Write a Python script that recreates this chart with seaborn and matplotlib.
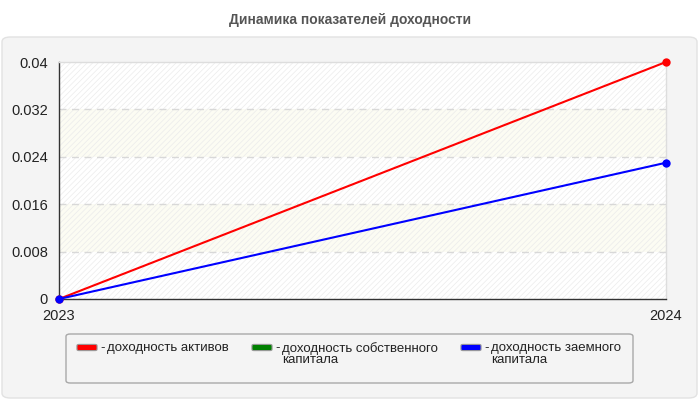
import matplotlib
matplotlib.use('Agg')
import matplotlib.pyplot as plt
from matplotlib.patches import FancyBboxPatch
import numpy as np
import pandas as pd
import seaborn as sns

# data
years = [2023, 2024]
series_names = ['доходность активов', 'доходность собственного\nкапитала', 'доходность заемного\nкапитала']
series_colors = ['#ff0000', '#008000', '#0000ff']
roa = [0.0, 0.04]
roe = [np.nan, np.nan]  # no values shown
rod = [0.0, 0.023]
y_ticks = [0, 0.008, 0.016, 0.024, 0.032, 0.04]
y_labels = ['0', '0.008', '0.016', '0.024', '0.032', '0.04']
title = 'Динамика показателей доходности'

sns.set_style('white')
plt.rcParams['font.family'] = ['Liberation Sans', 'DejaVu Sans']
plt.rcParams['hatch.linewidth'] = 0.5

df = pd.DataFrame({
    'year': years * 3,
    'value': roa + roe + rod,
    'series': [n for n in series_names for _ in years],
})

fig = plt.figure(figsize=(7, 4), dpi=100)
fig.patch.set_facecolor('white')

# outer panel
panel = FancyBboxPatch((2 / 700, 2 / 400), 695 / 700, 361 / 400,
                       boxstyle='round,pad=0,rounding_size=0.012',
                       transform=fig.transFigure, facecolor='#f4f4f4',
                       edgecolor='#e2e2e2', linewidth=1, zorder=-10)
fig.patches.append(panel)

fig.text(0.5, 1 - 20 / 400, title, ha='center', va='center',
         fontsize=10, fontweight='bold', color='#555555')

ax = fig.add_axes([59 / 700, 101 / 400, 607 / 700, 237 / 400])
ax.set_facecolor('white')

# alternating bands, faint hatching everywhere
for i in range(len(y_ticks) - 1):
    fc = 'white' if i % 2 == 0 else '#fcfcf3'
    ax.axhspan(y_ticks[i], y_ticks[i + 1], facecolor=fc, edgecolor='#ebebeb',
               hatch='//////', linewidth=0, zorder=0)

for t in y_ticks[1:-1]:
    ax.axhline(t, color='#d8d8d8', linestyle=(0, (5, 4)), linewidth=1, zorder=1)

sns.lineplot(data=df, x='year', y='value', hue='series', palette=series_colors,
             marker='o', markersize=6, markeredgewidth=0, linewidth=1.5,
             legend=False, ax=ax, zorder=3)

ax.set_xlim(years[0], years[-1])
ax.set_ylim(y_ticks[0], y_ticks[-1])
ax.set_xticks(years)
ax.set_xticklabels([str(y) for y in years])
ax.set_yticks(y_ticks)
ax.set_yticklabels(y_labels)
ax.set_xlabel('')
ax.set_ylabel('')
ax.tick_params(axis='both', labelsize=10.5, colors='#222222', length=5, width=1,
               direction='out', pad=2)
ax.tick_params(axis='y', length=6)
for s in ['left', 'bottom']:
    ax.spines[s].set_color('#333333')
    ax.spines[s].set_linewidth(1)
for s in ['top', 'right']:
    ax.spines[s].set_color('#dddddd')
    ax.spines[s].set_linewidth(1)
for line in ax.lines:
    line.set_clip_on(False)

# legend box
leg_box = FancyBboxPatch((66 / 700, 17 / 400), 567 / 700, 49 / 400,
                         boxstyle='round,pad=0,rounding_size=0.006',
                         transform=fig.transFigure, facecolor='#f4f4f4',
                         edgecolor='#a8a8a8', linewidth=1, zorder=1)
fig.patches.append(leg_box)

swatch_x = [77, 252, 461]
for sx, name, col in zip(swatch_x, series_names, series_colors):
    sw = FancyBboxPatch(((sx + 1) / 700, (400 - 350) / 400), 18 / 700, 5 / 400,
                        boxstyle='round,pad=0.0015,rounding_size=0.003',
                        transform=fig.transFigure, facecolor=col,
                        edgecolor='#999999', linewidth=0.8, zorder=2)
    fig.patches.append(sw)
    fig.text((sx + 23) / 700, 1 - 342 / 400, '-', ha='left', va='top',
             fontsize=9.5, color='#222222')
    fig.text((sx + 30) / 700, 1 - 342 / 400, name, ha='left', va='top',
             fontsize=9.5, color='#222222', linespacing=0.95)

fig.savefig('out.png', dpi=100)
